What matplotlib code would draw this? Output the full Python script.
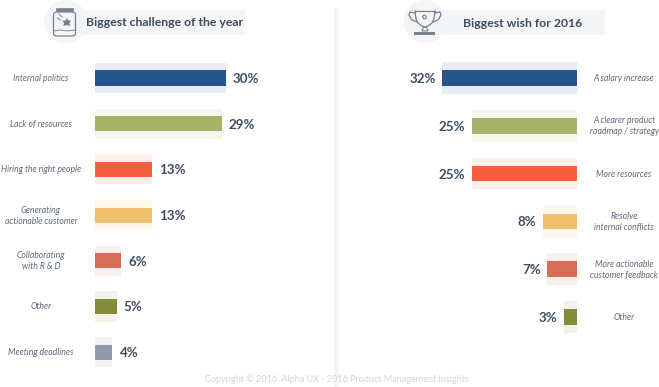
import numpy as np
import matplotlib
matplotlib.use('Agg')
import matplotlib.pyplot as plt
from matplotlib.patches import Circle, FancyBboxPatch, Rectangle, Polygon

plt.rcParams['font.family'] = ['Lato', 'DejaVu Sans']

# Data
left_title = 'Biggest challenge of the year'
left_labels = ['Internal politics', 'Lack of resources', 'Hiring the right people',
               'Generating\nactionable customer', 'Collaborating\nwith R & D', 'Other',
               'Meeting deadlines']
left_values = [30, 29, 13, 13, 6, 5, 4]
left_colors = ['#27548a', '#a5b46a', '#f4603f', '#f0bf6c', '#d76f58', '#858a3c', '#9498af']
left_pale = ['#e9ecf5', '#f5f6ec', '#fdeeea', '#fdf7ec', '#fbefed', '#f1f2e9', '#f3f3f6']

right_title = 'Biggest wish for 2016'
right_labels = ['A salary increase', 'A clearer product\nroadmap / strategy', 'More resources',
                'Resolve\ninternal conflicts', 'More actionable\ncustomer feedback', 'Other']
right_values = [32, 25, 25, 8, 7, 3]
right_colors = ['#27548a', '#a5b46a', '#f4603f', '#f0bf6c', '#d76f58', '#858a3c']
right_pale = ['#e9ecf5', '#f5f6ec', '#fdeeea', '#fdf7ec', '#fbefed', '#f1f2e9']

W, H = 659, 387
text_dark = '#3f4d5e'
text_label = '#5f6b79'
icon_col = '#77818e'

fig = plt.figure(figsize=(W / 100, H / 100), dpi=100, facecolor='white')

# background layer in pixels: headers, divider, footer
bg = fig.add_axes([0, 0, 1, 1])
bg.set_xlim(0, W)
bg.set_ylim(H, 0)
bg.axis('off')
bg.add_patch(Rectangle((334, 8), 5, 379, color='#f4f5f8', lw=0))
bg.add_patch(Rectangle((65, 10), 180, 25, color='#f3f5f7', lw=0))
bg.add_patch(Circle((65.5, 21.5), 21.5, color='#f3f5f7', lw=0))
bg.add_patch(Rectangle((425, 10), 180, 25, color='#f3f5f7', lw=0))
bg.add_patch(Circle((425, 21.5), 21.5, color='#f3f5f7', lw=0))
bg.text(164.5, 23, left_title, ha='center', va='center', fontsize=8.8,
        fontweight='bold', color=text_dark)
bg.text(523, 23.5, right_title, ha='center', va='center', fontsize=8.8,
        fontweight='bold', color=text_dark)
bg.text(337, 379, 'Copyright © 2016. Alpha UX - 2016 Product Management Insights',
        ha='center', va='center', fontsize=6.5, color='#d3d7db')

# jar icon
bg.add_patch(FancyBboxPatch((53.5, 12), 22, 24, boxstyle='round,pad=0,rounding_size=3',
                            fc='none', ec=icon_col, lw=0.9))
bg.add_patch(Rectangle((56, 8), 17, 3, fc=icon_col, ec=icon_col, lw=0.5))
bg.plot([54, 60, 68, 75], [31, 30, 31, 30], color=icon_col, lw=0.6)
bg.add_patch(Polygon([[67, 18], [68.5, 20.5], [71, 20.5], [69.5, 23], [70, 26], [66.5, 25],
                      [63.5, 26], [64, 23], [62.5, 20.5], [65.5, 20.5]], color=icon_col, lw=0))
bg.plot([59, 62], [14, 17], color=icon_col, lw=0.7)
bg.plot([57.5, 60], [18, 20], color=icon_col, lw=0.7)

# trophy icon
cup_x = [415, 416, 418, 422, 425, 428, 432, 434, 435]
cup_y = [11, 19, 23, 26, 27, 26, 23, 19, 11]
bg.plot(cup_x, cup_y, color=icon_col, lw=0.9)
bg.plot([415, 435], [11, 11], color=icon_col, lw=0.9)
bg.plot([415, 410, 409, 412, 417], [13, 12, 15, 20, 22], color=icon_col, lw=0.9)
bg.plot([435, 440, 441, 438, 433], [13, 12, 15, 20, 22], color=icon_col, lw=0.9)
bg.add_patch(Circle((424.5, 17), 1.8, fc='none', ec=icon_col, lw=0.8))
bg.add_patch(Polygon([[423.5, 27], [426.5, 27], [428, 31], [422, 31]], fc='none', ec=icon_col, lw=0.8))
bg.add_patch(Rectangle((414, 31.5), 21, 3, color=icon_col, lw=0))


def draw_panel(pos, xlim, ylim, labels, values, colors, pale, label_x, gap):
    ax = fig.add_axes(pos)
    ax.patch.set_alpha(0)
    y = np.arange(len(values))
    ax.barh(y, values, height=0.66, color=pale, lw=0)
    ax.barh(y, values, height=0.33, color=colors, lw=0)
    ax.set_xlim(*xlim)
    ax.set_ylim(*ylim)
    ax.axis('off')
    for i, v in enumerate(values):
        ax.text(v + gap, i + 0.02, f'{v}%', ha='left' if xlim[0] < xlim[1] else 'right',
                va='center', fontsize=9.6, fontweight='bold', color=text_dark)
        ax.text(label_x, i + 0.01, labels[i], ha='center', va='center', fontsize=6.25,
                style='italic', color=text_label, linespacing=1.3)
    return ax


# left panel, 0% at 95 px, 4.37 px per %, rows 45.7 px apart from y=78
sx, sy = 4.37, 45.7
draw_panel([0, 0, 330 / W, 1], (-95 / sx, 235 / sx), ((H - 78) / sy, -78 / sy),
           left_labels, left_values, left_colors, left_pale, (41 - 95) / sx, 1.6)

# right panel, mirrored, 0% at 576.5 px, 4.2 px per %, rows 47.8 px apart
sx, sy = 4.2, 47.8
draw_panel([330 / W, 0, 329 / W, 1], (246.5 / sx, -82.5 / sx), ((H - 78) / sy, -78 / sy),
           right_labels, right_values, right_colors, right_pale, -47.5 / sx, 1.5)

fig.savefig('out.png', dpi=100)
